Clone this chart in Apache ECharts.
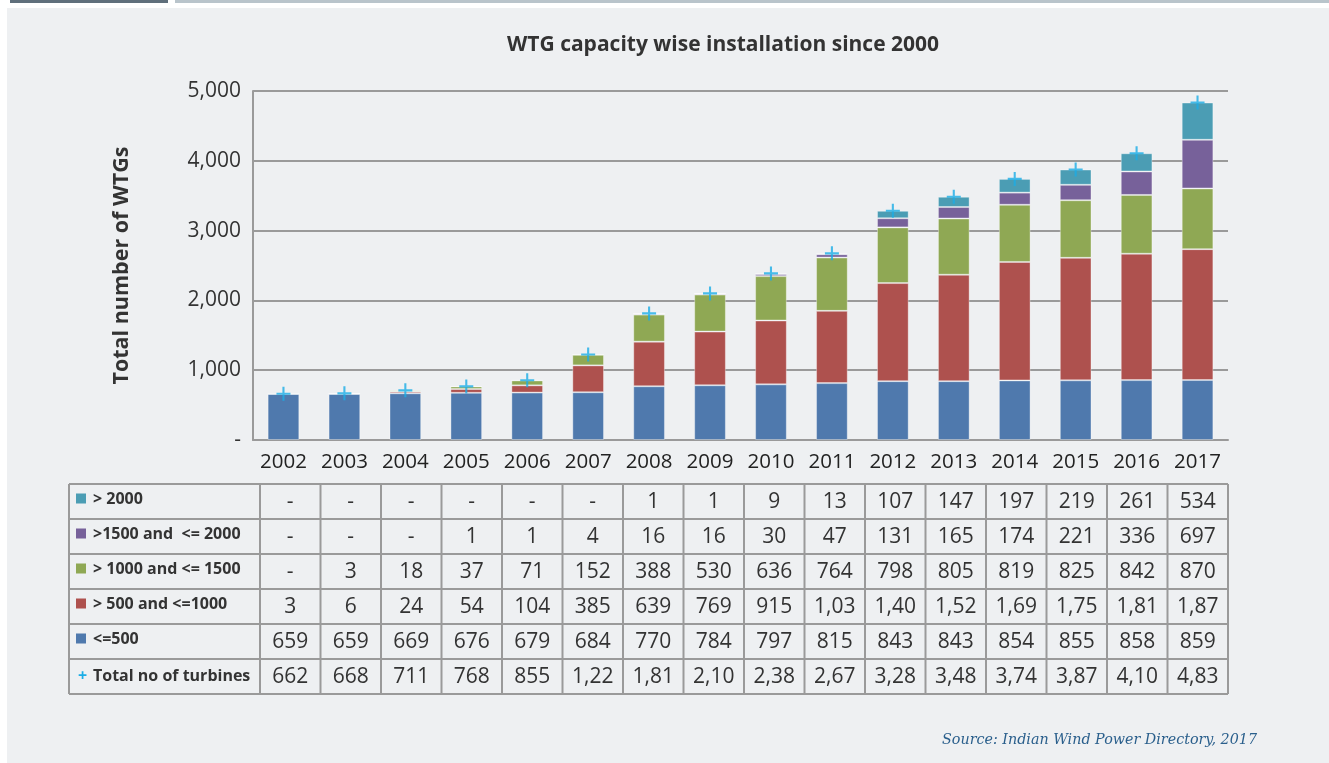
<!DOCTYPE html>
<html>
<head>
<meta charset="utf-8">
<script src="https://cdn.jsdelivr.net/npm/echarts@6/dist/echarts.min.js"></script>
<style>
  html, body { margin: 0; padding: 0; background: #fff; }
  #strip1 { position: absolute; left: 10px; top: 0; width: 158px; height: 3px; background: #5f6f7b; }
  #strip2 { position: absolute; left: 175px; top: 0; right: 0; height: 3px; background: #b9c4cb; }
  #chart { position: absolute; left: 7px; top: 8px; width: 1322px; height: 755px; background: #eef0f2; }
</style>
</head>
<body>
<div id="strip1"></div>
<div id="strip2"></div>
<div id="chart"></div>
<script>
// data
var years = ['2002', '2003', '2004', '2005', '2006', '2007', '2008', '2009', '2010', '2011', '2012', '2013', '2014', '2015', '2016', '2017']
var upTo500 = [659, 659, 669, 676, 679, 684, 770, 784, 797, 815, 843, 843, 854, 855, 858, 859]
var from500to1000 = [3, 6, 24, 54, 104, 385, 639, 769, 915, 1035, 1405, 1525, 1697, 1755, 1811, 1875]
var from1000to1500 = [null, 3, 18, 37, 71, 152, 388, 530, 636, 764, 798, 805, 819, 825, 842, 870]
var from1500to2000 = [null, null, null, 1, 1, 4, 16, 16, 30, 47, 131, 165, 174, 221, 336, 697]
var over2000 = [null, null, null, null, null, null, 1, 1, 9, 13, 107, 147, 197, 219, 261, 534]
var totals = [662, 668, 711, 768, 855, 1225, 1814, 2100, 2387, 2674, 3284, 3485, 3741, 3875, 4108, 4835]
var yTicks = [0, 1000, 2000, 3000, 4000, 5000]

var colors = {
    over2000: '#4b9db4',
    from1500to2000: '#77619a',
    from1000to1500: '#8fa854',
    from500to1000: '#ae514e',
    upTo500: '#4f79ad',
    total: '#1aade6'
}

var myChart = echarts.init(document.getElementById('chart'))

// plot area (chart coords, page minus 7/8 offset)
var gLeft = 246, gTop = 83, gWidth = 975, gHeight = 349

// table geometry
var tLeft = 62, tLabelRight = 253, tRight = 1221, tTop = 476, rowH = 35
var rows = [
    { name: '> 2000', color: colors.over2000, data: over2000 },
    { name: '>1500 and  <= 2000', color: colors.from1500to2000, data: from1500to2000 },
    { name: '> 1000 and <= 1500', color: colors.from1000to1500, data: from1000to1500 },
    { name: '> 500 and <=1000', color: colors.from500to1000, data: from500to1000 },
    { name: '<=500', color: colors.upTo500, data: upTo500 },
    { name: 'Total no of turbines', color: null, data: totals }
]

function cellText (v) {
    if (v === null || v === undefined) return '-'
    var s = v.toLocaleString('en-US')
    // cells are narrow, the source clips the last digit of 4-digit values
    return s.length > 4 ? s.slice(0, 4) : s
}

var graphic = []
var colW = (tRight - tLabelRight) / years.length
var lineStyle = { stroke: '#9a9a9a', lineWidth: 2 }
for (var r = 0; r <= rows.length; r++) {
    graphic.push({ type: 'line', shape: { x1: tLeft, y1: tTop + r * rowH, x2: tRight, y2: tTop + r * rowH }, style: lineStyle, silent: true })
}
graphic.push({ type: 'line', shape: { x1: tLeft, y1: tTop, x2: tLeft, y2: tTop + rows.length * rowH }, style: lineStyle })
for (var c = 0; c <= years.length; c++) {
    var x = tLabelRight + c * colW
    graphic.push({ type: 'line', shape: { x1: x, y1: tTop, x2: x, y2: tTop + rows.length * rowH }, style: lineStyle })
}
rows.forEach(function (row, r) {
    var cy = tTop + r * rowH + rowH / 2
    if (row.color) {
        graphic.push({ type: 'rect', shape: { x: 69, y: cy - 8, width: 10, height: 10 }, style: { fill: row.color } })
        graphic.push({ type: 'text', x: 86, y: cy - 2, style: { text: row.name, font: 'bold 16px "Open Sans"', fill: '#333', verticalAlign: 'middle' } })
    } else {
        graphic.push({ type: 'text', x: 71, y: cy, style: { text: '+', font: 'bold 16px "Open Sans"', fill: colors.total, verticalAlign: 'middle' } })
        graphic.push({ type: 'text', x: 86, y: cy, style: { text: row.name, font: 'bold 16px "Open Sans"', fill: '#333', verticalAlign: 'middle' } })
    }
    row.data.forEach(function (v, i) {
        graphic.push({
            type: 'text',
            x: tLabelRight + i * colW + colW / 2,
            y: cy + 1,
            style: { text: cellText(v), font: '21px "Open Sans"', fill: '#333', align: 'center', verticalAlign: 'middle' }
        })
    })
})
graphic.push({
    type: 'text', right: 72, top: 725,
    style: { text: 'Source: Indian Wind Power Directory, 2017', font: 'italic 14.3px "DejaVu Serif"', fill: '#2a5f8c' }
})

function barSeries (name, data, color) {
    return {
        name: name,
        type: 'bar',
        stack: 'wtg',
        barWidth: '52%',
        itemStyle: { color: color, borderColor: 'rgba(255,255,255,0.35)', borderWidth: 1 },
        data: data
    }
}

myChart.setOption({
    animation: false,
    textStyle: { fontFamily: 'Open Sans' },
    title: {
        text: 'WTG capacity wise installation since 2000',
        left: 495,
        top: 22,
        textStyle: { fontSize: 21, fontWeight: 'bold', color: '#333' }
    },
    grid: { left: gLeft, top: gTop, width: gWidth, height: gHeight },
    xAxis: {
        type: 'category',
        data: years,
        axisLine: { lineStyle: { color: '#9a9a9a', width: 2 } },
        axisTick: { show: false },
        axisLabel: { color: '#222', fontSize: 20.5, margin: 12, interval: 0, hideOverlap: false }
    },
    yAxis: {
        type: 'value',
        min: yTicks[0],
        max: yTicks[yTicks.length - 1],
        interval: 1000,
        name: 'Total number of WTGs',
        nameLocation: 'middle',
        nameGap: 120,
        nameTextStyle: { fontSize: 21.5, fontWeight: 'bold', color: '#333' },
        axisLine: { show: true, lineStyle: { color: '#9a9a9a', width: 2 } },
        axisTick: { show: false },
        splitLine: { lineStyle: { color: '#9a9a9a', width: 2 } },
        axisLabel: {
            color: '#333',
            fontSize: 21,
            margin: 12,
            formatter: function (v) { return v === 0 ? '-' : v.toLocaleString('en-US') }
        }
    },
    series: [
        barSeries('<=500', upTo500, colors.upTo500),
        barSeries('> 500 and <=1000', from500to1000, colors.from500to1000),
        barSeries('> 1000 and <= 1500', from1000to1500, colors.from1000to1500),
        barSeries('>1500 and  <= 2000', from1500to2000, colors.from1500to2000),
        barSeries('> 2000', over2000, colors.over2000),
        {
            name: 'Total no of turbines',
            type: 'scatter',
            symbol: 'path://M8.5,0h3v20h-3z M0,8.5h20v3h-20z',
            symbolSize: 14,
            itemStyle: { color: colors.total },
            z: 5,
            data: totals
        }
    ],
    graphic: graphic
})
</script>
</body>
</html>
